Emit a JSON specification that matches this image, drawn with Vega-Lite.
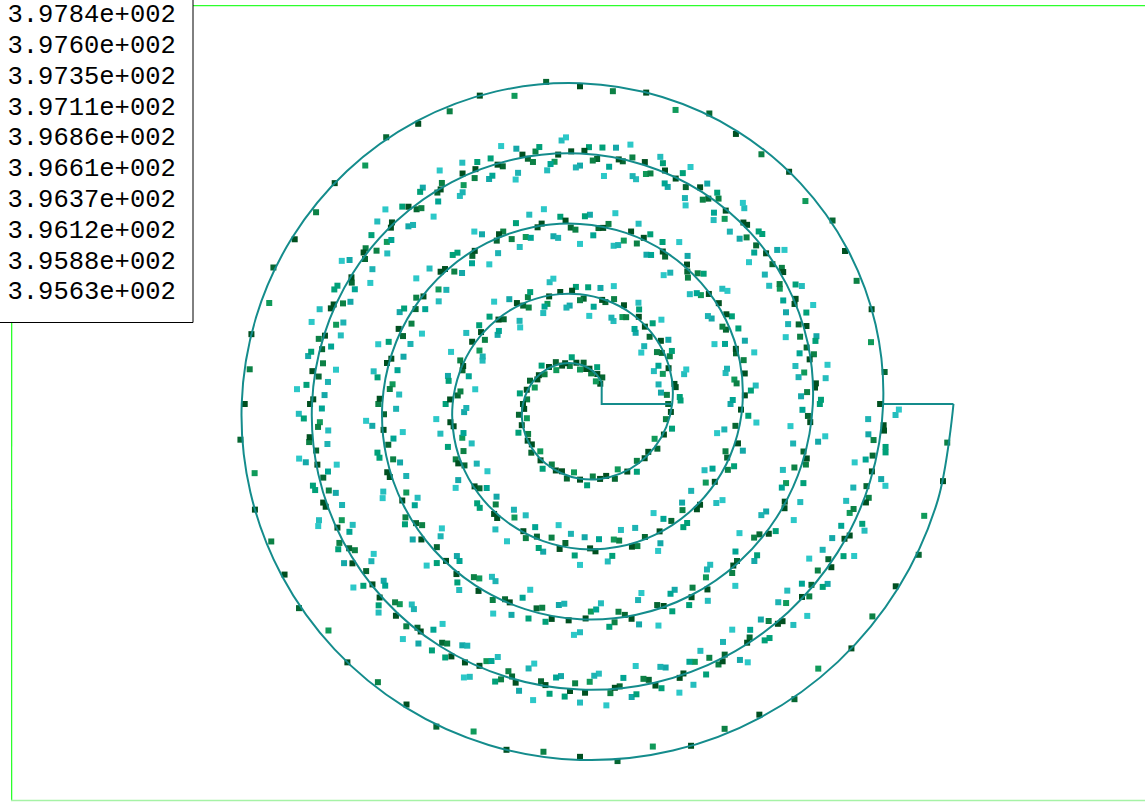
{
  "$schema": "https://vega.github.io/schema/vega-lite/v6.json",
  "width": 1134,
  "height": 797,
  "autosize": {"type": "none"},
  "padding": {"left": 11, "top": 5, "right": 0, "bottom": 0},
  "background": "#ffffff",
  "config": {"view": {"stroke": "transparent", "strokeWidth": 0}},
  "projection": {"type": "azimuthalEquidistant", "rotate": [90, -90, 0], "scale": 229.183, "translate": [569, 399]},
  "layer": [
    {
      "data": {
        "format": {"type": "csv", "parse": {"lon": "number", "lat": "number", "lon2": "number", "lat2": "number"}},
        "values": "lon,lat,lon2,lat2\n144.96,-83.74,34.99,-83.94\n144.96,-83.74,214.90,-83.45"
      },
      "mark": {"type": "rule", "color": "#2cff2c", "strokeWidth": 2.6},
      "encoding": {
        "longitude": {"field": "lon", "type": "quantitative"},
        "latitude": {"field": "lat", "type": "quantitative"},
        "longitude2": {"field": "lon2"},
        "latitude2": {"field": "lat2"}
      }
    },
    {
      "data": {
        "format": {"type": "csv", "parse": {"lon": "number", "lat": "number", "lon2": "number", "lat2": "number"}},
        "values": "lon,lat,lon2,lat2\n214.87,-83.38,325.18,-83.59"
      },
      "mark": {"type": "rule", "color": "#a6f2a6", "strokeWidth": 1.5},
      "encoding": {
        "longitude": {"field": "lon", "type": "quantitative"},
        "latitude": {"field": "lat", "type": "quantitative"},
        "longitude2": {"field": "lon2"},
        "latitude2": {"field": "lat2"}
      }
    },
    {
      "data": {
        "format": {"type": "csv", "parse": {"lon": "number", "lat": "number", "v": "number"}},
        "values": "lon,lat,v\n45,82.83,397.84\n50,81.33,397.60\n55,83.09,397.11\n60,81.35,397.84\n65,79.85,396.86\n70,81.86,397.35\n75,80.86,397.84\n80,81.12,397.84\n85,79.63,397.60\n90,81.38,397.11\n95,79.64,397.84\n100,78.14,396.86\n105,80.15,397.35\n110,79.15,397.84\n115,79.41,397.84\n120,77.92,397.60\n125,79.67,397.11\n130,77.93,397.84\n135,76.43,396.86\n140,78.44,397.35\n145,77.45,397.84\n150,77.70,397.84\n155,76.21,397.60\n160,77.96,397.11\n165,76.22,397.84\n170,74.73,396.86\n175,76.73,397.35\n180,75.74,397.84\n185,75.99,397.84\n190,74.50,397.60\n195,76.25,397.11\n200,74.51,397.84\n205,73.02,396.86\n210,75.02,397.35\n215,74.03,397.84\n220,74.28,397.84\n225,72.79,397.60\n230,74.55,397.11\n235,72.80,397.84\n240,71.31,396.86\n245,73.31,397.35\n250,72.32,397.84\n255,72.58,397.84\n260,71.08,397.60\n265,72.84,397.11\n270,71.09,397.84\n275,69.60,396.86\n280,71.60,397.35\n285,70.61,397.84\n290,70.87,397.84\n295,69.37,397.60\n300,71.13,397.11\n305,69.38,397.84\n310,67.89,396.86\n315,69.90,397.35\n320,68.90,397.84\n325,69.16,397.84\n330,67.66,397.60\n335,69.42,397.11\n340,67.68,397.84\n345,66.18,396.86\n350,68.19,397.35\n355,67.19,397.84\n0,67.95,397.60\n4,65.00,396.86\n8,69.56,396.37\n12,65.86,397.84\n16,62.92,395.88\n20,67.97,397.11\n24,69.78,395.88\n28,64.58,397.35\n32,65.89,397.60\n36,62.69,396.37\n40,70.00,395.63\n44,65.80,397.60\n48,62.85,396.86\n52,67.41,396.37\n56,63.71,397.84\n60,60.77,395.88\n64,65.82,397.11\n68,67.63,395.88\n72,62.43,397.35\n76,63.74,397.60\n80,60.54,396.37\n84,67.85,395.63\n88,63.65,397.60\n92,60.71,396.86\n96,65.26,396.37\n100,61.57,397.84\n104,58.62,395.88\n108,63.68,397.11\n112,65.48,395.88\n116,60.28,397.35\n120,61.59,397.60\n124,58.39,396.37\n128,65.70,395.63\n132,61.50,397.60\n136,58.56,396.86\n140,63.11,396.37\n144,59.42,397.84\n148,56.47,395.88\n152,61.53,397.11\n156,63.33,395.88\n160,58.14,397.35\n164,59.44,397.60\n168,56.25,396.37\n172,63.55,395.63\n176,59.36,397.60\n180,56.41,396.86\n184,60.96,396.37\n188,57.27,397.84\n192,54.32,395.88\n196,59.38,397.11\n200,61.18,395.88\n204,55.99,397.35\n208,57.29,397.60\n212,54.10,396.37\n216,61.40,395.63\n220,57.21,397.60\n224,54.26,396.86\n228,58.82,396.37\n232,55.12,397.84\n236,52.18,395.88\n240,57.23,397.11\n244,59.04,395.88\n248,53.84,397.35\n252,55.14,397.60\n256,51.95,396.37\n260,59.25,395.63\n264,55.06,397.60\n268,52.11,396.86\n272,56.67,396.37\n276,52.97,397.84\n280,50.03,395.88\n284,55.08,397.11\n288,56.89,395.88\n292,51.69,397.35\n296,53.00,397.60\n300,49.80,396.37\n304,57.11,395.63\n308,52.91,397.60\n312,49.97,396.86\n316,54.52,396.37\n320,50.82,397.84\n324,47.88,395.88\n328,52.93,397.11\n332,54.74,395.88\n336,49.54,397.35\n340,50.85,397.60\n344,47.65,396.37\n348,54.96,395.63\n352,50.76,397.60\n356,47.82,396.86\n0,52.37,396.37\n3,48.73,397.84\n6,45.83,395.88\n9,50.93,397.11\n12,52.79,395.88\n15,47.64,397.35\n18,48.99,397.60\n21,45.85,396.37\n24,53.20,395.63\n27,49.05,397.60\n30,46.16,396.86\n33,50.76,396.37\n36,47.11,397.84\n39,44.22,395.88\n42,49.32,397.11\n45,51.17,395.88\n48,46.03,397.35\n51,47.38,397.60\n54,44.24,396.37\n57,51.59,395.63\n60,47.44,397.60\n63,44.55,396.86\n66,49.15,396.37\n69,45.50,397.84\n72,42.61,395.88\n75,47.71,397.11\n78,49.56,395.88\n81,44.42,397.35\n84,45.77,397.60\n87,42.62,396.37\n90,49.98,395.63\n93,45.83,397.60\n96,42.93,396.86\n99,47.54,396.37\n102,43.89,397.84\n105,41.00,395.88\n108,46.10,397.11\n111,47.95,395.88\n114,42.81,397.35\n117,44.16,397.60\n120,41.01,396.37\n123,48.37,395.63\n126,44.22,397.60\n129,41.32,396.86\n132,45.93,396.37\n135,42.28,397.84\n138,39.38,395.88\n141,44.49,397.11\n144,46.34,395.88\n147,41.19,397.35\n150,42.55,397.60\n153,39.40,396.37\n156,46.75,395.63\n159,42.61,397.60\n162,39.71,396.86\n165,44.32,396.37\n168,40.67,397.84\n171,37.77,395.88\n174,42.88,397.11\n177,44.73,395.88\n180,39.58,397.35\n183,40.94,397.60\n186,37.79,396.37\n189,45.14,395.63\n192,41.00,397.60\n195,38.10,396.86\n198,42.70,396.37\n201,39.06,397.84\n204,36.16,395.88\n207,41.26,397.11\n210,43.12,395.88\n213,37.97,397.35\n216,39.33,397.60\n219,36.18,396.37\n222,43.53,395.63\n225,39.39,397.60\n228,36.49,396.86\n231,41.09,396.37\n234,37.45,397.84\n237,34.55,395.88\n240,39.65,397.11\n243,41.51,395.88\n246,36.36,397.35\n249,37.71,397.60\n252,34.57,396.37\n255,41.92,395.63\n258,37.77,397.60\n261,34.88,396.86\n264,39.48,396.37\n267,35.84,397.84\n270,32.94,395.88\n273,38.04,397.11\n276,39.90,395.88\n279,34.75,397.35\n282,36.10,397.60\n285,32.96,396.37\n288,40.31,395.63\n291,36.16,397.60\n294,33.27,396.86\n297,37.87,396.37\n300,34.22,397.84\n303,31.33,395.88\n306,36.43,397.11\n309,38.28,395.88\n312,33.14,397.35\n315,34.49,397.60\n318,31.35,396.37\n321,38.70,395.63\n324,34.55,397.60\n327,31.66,396.86\n330,36.26,396.37\n333,32.61,397.84\n336,29.72,395.88\n339,34.82,397.11\n342,36.67,395.88\n345,31.53,397.35\n348,32.88,397.60\n351,29.73,396.37\n354,37.09,395.63\n357,32.94,397.60\n0,30.04,396.86\n2,34.70,396.37\n4,31.10,397.84\n6,28.25,395.88\n8,33.40,397.11\n10,35.31,395.88\n12,30.21,397.35\n14,31.61,397.60\n16,28.51,396.37\n18,35.92,395.63\n20,31.82,397.60\n22,28.97,396.86\n24,33.62,396.37\n26,30.03,397.84\n28,27.18,395.88\n30,32.33,397.11\n32,34.23,395.88\n34,29.13,397.35\n36,30.54,397.60\n38,27.44,396.37\n40,34.84,395.63\n42,30.74,397.60\n44,27.90,396.86\n46,32.55,396.37\n48,28.95,397.84\n50,26.10,395.88\n52,31.26,397.11\n54,33.16,395.88\n56,28.06,397.35\n58,29.46,397.60\n60,26.37,396.37\n62,33.77,395.63\n64,29.67,397.60\n66,26.82,396.86\n68,31.47,396.37\n70,27.88,397.84\n72,25.03,395.88\n74,30.18,397.11\n76,32.08,395.88\n78,26.99,397.35\n80,28.39,397.60\n82,25.29,396.37\n84,32.69,395.63\n86,28.60,397.60\n88,25.75,396.86\n90,30.40,396.37\n92,26.80,397.84\n94,23.96,395.88\n96,29.11,397.11\n98,31.01,395.88\n100,25.91,397.35\n102,27.31,397.60\n104,24.22,396.37\n106,31.62,395.63\n108,27.52,397.60\n110,24.67,396.86\n112,29.33,396.37\n114,25.73,397.84\n116,22.88,395.88\n118,28.03,397.11\n120,29.94,395.88\n122,24.84,397.35\n124,26.24,397.60\n126,23.14,396.37\n128,30.55,395.63\n130,26.45,397.60\n132,23.60,396.86\n134,28.25,396.37\n136,24.65,397.84\n138,21.81,395.88\n140,26.96,397.11\n142,28.86,395.88\n144,23.76,397.35\n146,25.17,397.60\n148,22.07,396.37\n150,29.47,395.63\n152,25.37,397.60\n154,22.53,396.86\n156,27.18,396.37\n158,23.58,397.84\n160,20.73,395.88\n162,25.89,397.11\n164,27.79,395.88\n166,22.69,397.35\n168,24.09,397.60\n170,20.99,396.37\n172,28.40,395.63\n174,24.30,397.60\n176,21.45,396.86\n178,26.10,396.37\n180,22.51,397.84\n182,19.66,395.88\n184,24.81,397.11\n186,26.71,395.88\n188,21.62,397.35\n190,23.02,397.60\n192,19.92,396.37\n194,27.32,395.63\n196,23.23,397.60\n198,20.38,396.86\n200,25.03,396.37\n202,21.43,397.84\n204,18.58,395.88\n206,23.74,397.11\n208,25.64,395.88\n210,20.54,397.35\n212,21.94,397.60\n214,18.85,396.37\n216,26.25,395.63\n218,22.15,397.60\n220,19.30,396.86\n222,23.96,396.37\n224,20.36,397.84\n226,17.51,395.88\n228,22.66,397.11\n230,24.57,395.88\n232,19.47,397.35\n234,20.87,397.60\n236,17.77,396.37\n238,25.17,395.63\n240,21.08,397.60\n242,18.23,396.86\n244,22.88,396.37\n246,19.28,397.84\n248,16.44,395.88\n250,21.59,397.11\n252,23.49,395.88\n254,18.39,397.35\n256,19.80,397.60\n258,16.70,396.37\n260,24.10,395.63\n262,20.00,397.60\n264,17.16,396.86\n266,21.81,396.37\n268,18.21,397.84\n270,15.36,395.88\n272,20.51,397.11\n274,22.42,395.88\n276,17.32,397.35\n278,18.72,397.60\n280,15.62,396.37\n282,23.03,395.63\n284,18.93,397.60\n286,16.08,396.86\n288,20.73,396.37\n290,17.14,397.84\n292,14.29,395.88\n294,19.44,397.11\n296,21.34,395.88\n298,16.25,397.35\n300,17.65,397.60\n302,14.55,396.37\n304,21.95,395.63\n306,17.85,397.60\n308,15.01,396.86\n310,19.66,396.37\n312,16.06,397.84\n314,13.21,395.88\n316,18.37,397.11\n318,20.27,395.88\n320,15.17,397.35\n322,16.57,397.60\n324,13.48,396.37\n326,20.88,395.63\n328,16.78,397.60\n330,13.93,396.86\n332,18.59,396.37\n334,14.99,397.84\n336,12.14,395.88\n338,17.29,397.11\n340,19.19,395.88\n342,14.10,397.35\n344,15.50,397.60\n346,12.40,396.37\n348,19.80,395.63\n350,15.71,397.60\n352,12.86,396.86\n354,17.51,396.37\n356,13.91,397.84\n358,11.07,395.88\n0,14.97,397.84\n6,13.42,397.60\n12,15.63,397.11\n18,13.34,397.84\n24,14.30,397.35\n30,13.50,397.84\n36,11.96,397.60\n42,14.17,397.11\n48,11.87,397.84\n54,12.83,397.35\n60,12.04,397.84\n66,10.50,397.60\n72,12.70,397.11\n78,10.41,397.84\n84,11.37,397.35\n90,10.57,397.84\n96,9.03,397.60\n102,11.24,397.11\n108,8.94,397.84\n114,9.90,397.35\n120,9.11,397.84\n126,7.57,397.60\n132,9.77,397.11\n138,7.48,397.84\n144,8.44,397.35\n150,7.64,397.84\n156,6.10,397.60\n162,8.31,397.11\n168,6.02,397.84\n174,6.97,397.35\n180,6.18,397.84\n186,4.64,397.60\n192,6.84,397.11\n198,4.55,397.84\n204,5.51,397.35\n210,4.71,397.84\n216,3.17,397.60\n222,5.38,397.11\n228,3.09,397.84\n234,4.04,397.35\n240,3.25,397.84\n246,1.71,397.60\n252,3.91,397.11\n258,1.62,397.84\n264,2.58,397.35\n270,1.79,397.84\n276,0.24,397.60\n282,2.45,397.11\n288,0.16,397.84\n294,1.11,397.35\n300,0.32,397.84\n306,-1.22,397.60\n312,0.98,397.11\n318,-1.31,397.84\n324,-0.35,397.35\n330,-1.15,397.84\n336,-2.69,397.60\n342,-0.48,397.11\n348,-2.77,397.84\n354,-2.32,397.35\n2,64.85,396.86\n6,68.16,397.35\n10,65.71,397.84\n14,69.76,396.12\n18,62.07,395.63\n22,66.12,397.84\n26,68.18,396.61\n30,63.48,396.86\n34,66.79,397.35\n38,64.34,397.84\n42,68.40,396.12\n46,60.70,395.63\n50,64.76,397.84\n54,66.81,396.61\n58,62.12,396.86\n62,65.42,397.35\n66,62.98,397.84\n70,67.03,396.12\n74,59.34,395.63\n78,63.39,397.84\n82,65.44,396.61\n86,60.75,396.86\n90,64.05,397.35\n94,61.61,397.84\n98,65.66,396.12\n102,57.97,395.63\n106,62.02,397.84\n110,64.08,396.61\n114,59.38,396.86\n118,62.69,397.35\n122,60.24,397.84\n126,64.30,396.12\n130,56.60,395.63\n134,60.66,397.84\n138,62.71,396.61\n142,58.02,396.86\n146,61.32,397.35\n150,58.87,397.84\n154,62.93,396.12\n158,55.23,395.63\n162,59.29,397.84\n166,61.34,396.61\n170,56.65,396.86\n174,59.95,397.35\n178,57.51,397.84\n182,61.56,396.12\n186,53.87,395.63\n190,57.92,397.84\n194,59.98,396.61\n198,55.28,396.86\n202,58.59,397.35\n206,56.14,397.84\n210,60.19,396.12\n214,52.50,395.63\n218,56.55,397.84\n222,58.61,396.61\n226,53.91,396.86\n230,57.22,397.35\n234,54.77,397.84\n238,58.83,396.12\n242,51.13,395.63\n246,55.19,397.84\n250,57.24,396.61\n254,52.55,396.86\n258,55.85,397.35\n262,53.41,397.84\n266,57.46,396.12\n270,49.77,395.63\n274,53.82,397.84\n278,55.87,396.61\n282,51.18,396.86\n286,54.48,397.35\n290,52.04,397.84\n294,56.09,396.12\n298,48.40,395.63\n302,52.45,397.84\n306,54.51,396.61\n310,49.81,396.86\n314,53.12,397.35\n318,50.67,397.84\n322,54.73,396.12\n326,47.03,395.63\n330,51.09,397.84\n334,53.14,396.61\n338,48.45,396.86\n342,51.75,397.35\n346,49.30,397.84\n350,53.36,396.12\n354,45.66,395.63\n358,49.72,397.84\n1.5,51.80,396.61\n4.5,47.15,396.86\n7.5,50.51,397.35\n10.5,48.11,397.84\n13.5,52.21,396.12\n16.5,44.57,395.63\n19.5,48.67,397.84\n22.5,50.77,396.61\n25.5,46.13,396.86\n28.5,49.48,397.35\n31.5,47.08,397.84\n34.5,51.19,396.12\n37.5,43.54,395.63\n40.5,47.64,397.84\n43.5,49.75,396.61\n46.5,45.10,396.86\n49.5,48.45,397.35\n52.5,46.06,397.84\n55.5,50.16,396.12\n58.5,42.52,395.63\n61.5,46.62,397.84\n64.5,48.72,396.61\n67.5,44.08,396.86\n70.5,47.43,397.35\n73.5,45.03,397.84\n76.5,49.14,396.12\n79.5,41.49,395.63\n82.5,45.59,397.84\n85.5,47.70,396.61\n88.5,43.05,396.86\n91.5,46.40,397.35\n94.5,44.01,397.84\n97.5,48.11,396.12\n100.5,40.47,395.63\n103.5,44.57,397.84\n106.5,46.67,396.61\n109.5,42.03,396.86\n112.5,45.38,397.35\n115.5,42.98,397.84\n118.5,47.09,396.12\n121.5,39.44,395.63\n124.5,43.54,397.84\n127.5,45.65,396.61\n130.5,41.00,396.86\n133.5,44.35,397.35\n136.5,41.96,397.84\n139.5,46.06,396.12\n142.5,38.41,395.63\n145.5,42.52,397.84\n148.5,44.62,396.61\n151.5,39.97,396.86\n154.5,43.33,397.35\n157.5,40.93,397.84\n160.5,45.04,396.12\n163.5,37.39,395.63\n166.5,41.49,397.84\n169.5,43.60,396.61\n172.5,38.95,396.86\n175.5,42.30,397.35\n178.5,39.91,397.84\n181.5,44.01,396.12\n184.5,36.36,395.63\n187.5,40.47,397.84\n190.5,42.57,396.61\n193.5,37.92,396.86\n196.5,41.28,397.35\n199.5,38.88,397.84\n202.5,42.98,396.12\n205.5,35.34,395.63\n208.5,39.44,397.84\n211.5,41.55,396.61\n214.5,36.90,396.86\n217.5,40.25,397.35\n220.5,37.86,397.84\n223.5,41.96,396.12\n226.5,34.31,395.63\n229.5,38.42,397.84\n232.5,40.52,396.61\n235.5,35.87,396.86\n238.5,39.23,397.35\n241.5,36.83,397.84\n244.5,40.93,396.12\n247.5,33.29,395.63\n250.5,37.39,397.84\n253.5,39.49,396.61\n256.5,34.85,396.86\n259.5,38.20,397.35\n262.5,35.81,397.84\n265.5,39.91,396.12\n268.5,32.26,395.63\n271.5,36.37,397.84\n274.5,38.47,396.61\n277.5,33.82,396.86\n280.5,37.18,397.35\n283.5,34.78,397.84\n286.5,38.88,396.12\n289.5,31.24,395.63\n292.5,35.34,397.84\n295.5,37.44,396.61\n298.5,32.80,396.86\n301.5,36.15,397.35\n304.5,33.75,397.84\n307.5,37.86,396.12\n310.5,30.21,395.63\n313.5,34.32,397.84\n316.5,36.42,396.61\n319.5,31.77,396.86\n322.5,35.13,397.35\n325.5,32.73,397.84\n328.5,36.83,396.12\n331.5,29.19,395.63\n334.5,33.29,397.84\n337.5,35.39,396.61\n340.5,30.75,396.86\n343.5,34.10,397.35\n346.5,31.70,397.84\n349.5,35.81,396.12\n352.5,28.16,395.63\n355.5,32.26,397.84\n358.5,34.37,396.61\n1,29.75,396.86\n3,33.15,397.35\n5,30.80,397.84\n7,34.95,396.12\n9,27.35,395.63\n11,31.51,397.84\n13,33.66,396.61\n15,29.06,396.86\n17,32.46,397.35\n19,30.12,397.84\n21,34.27,396.12\n23,26.67,395.63\n25,30.82,397.84\n27,32.98,396.61\n29,28.38,396.86\n31,31.78,397.35\n33,29.43,397.84\n35,33.59,396.12\n37,25.99,395.63\n39,30.14,397.84\n41,32.29,396.61\n43,27.69,396.86\n45,31.10,397.35\n47,28.75,397.84\n49,32.90,396.12\n51,25.30,395.63\n53,29.46,397.84\n55,31.61,396.61\n57,27.01,396.86\n59,30.41,397.35\n61,28.07,397.84\n63,32.22,396.12\n65,24.62,395.63\n67,28.77,397.84\n69,30.93,396.61\n71,26.33,396.86\n73,29.73,397.35\n75,27.38,397.84\n77,31.53,396.12\n79,23.94,395.63\n81,28.09,397.84\n83,30.24,396.61\n85,25.64,396.86\n87,29.05,397.35\n89,26.70,397.84\n91,30.85,396.12\n93,23.25,395.63\n95,27.41,397.84\n97,29.56,396.61\n99,24.96,396.86\n101,28.36,397.35\n103,26.02,397.84\n105,30.17,396.12\n107,22.57,395.63\n109,26.72,397.84\n111,28.87,396.61\n113,24.28,396.86\n115,27.68,397.35\n117,25.33,397.84\n119,29.48,396.12\n121,21.89,395.63\n123,26.04,397.84\n125,28.19,396.61\n127,23.59,396.86\n129,27.00,397.35\n131,24.65,397.84\n133,28.80,396.12\n135,21.20,395.63\n137,25.36,397.84\n139,27.51,396.61\n141,22.91,396.86\n143,26.31,397.35\n145,23.96,397.84\n147,28.12,396.12\n149,20.52,395.63\n151,24.67,397.84\n153,26.82,396.61\n155,22.23,396.86\n157,25.63,397.35\n159,23.28,397.84\n161,27.43,396.12\n163,19.84,395.63\n165,23.99,397.84\n167,26.14,396.61\n169,21.54,396.86\n171,24.95,397.35\n173,22.60,397.84\n175,26.75,396.12\n177,19.15,395.63\n179,23.30,397.84\n181,25.46,396.61\n183,20.86,396.86\n185,24.26,397.35\n187,21.91,397.84\n189,26.07,396.12\n191,18.47,395.63\n193,22.62,397.84\n195,24.77,396.61\n197,20.18,396.86\n199,23.58,397.35\n201,21.23,397.84\n203,25.38,396.12\n205,17.79,395.63\n207,21.94,397.84\n209,24.09,396.61\n211,19.49,396.86\n213,22.89,397.35\n215,20.55,397.84\n217,24.70,396.12\n219,17.10,395.63\n221,21.25,397.84\n223,23.41,396.61\n225,18.81,396.86\n227,22.21,397.35\n229,19.86,397.84\n231,24.02,396.12\n233,16.42,395.63\n235,20.57,397.84\n237,22.72,396.61\n239,18.13,396.86\n241,21.53,397.35\n243,19.18,397.84\n245,23.33,396.12\n247,15.73,395.63\n249,19.89,397.84\n251,22.04,396.61\n253,17.44,396.86\n255,20.84,397.35\n257,18.50,397.84\n259,22.65,396.12\n261,15.05,395.63\n263,19.20,397.84\n265,21.36,396.61\n267,16.76,396.86\n269,20.16,397.35\n271,17.81,397.84\n273,21.97,396.12\n275,14.37,395.63\n277,18.52,397.84\n279,20.67,396.61\n281,16.07,396.86\n283,19.48,397.35\n285,17.13,397.84\n287,21.28,396.12\n289,13.68,395.63\n291,17.84,397.84\n293,19.99,396.61\n295,15.39,396.86\n297,18.79,397.35\n299,16.45,397.84\n301,20.60,396.12\n303,13.00,395.63\n305,17.15,397.84\n307,19.31,396.61\n309,14.71,396.86\n311,18.11,397.35\n313,15.76,397.84\n315,19.91,396.12\n317,12.32,395.63\n319,16.47,397.84\n321,18.62,396.61\n323,14.02,396.86\n325,17.43,397.35\n327,15.08,397.84\n329,19.23,396.12\n331,11.63,395.63\n333,15.79,397.84\n335,17.94,396.61\n337,13.34,396.86\n339,16.74,397.35\n341,14.40,397.84\n343,18.55,396.12\n345,10.95,395.63\n347,15.10,397.84\n349,17.25,396.61\n351,12.66,396.86\n353,16.06,397.35\n355,13.71,397.84\n357,17.86,396.12\n359,10.27,395.63"
      },
      "mark": {"type": "point", "shape": "square", "filled": true, "size": 36, "opacity": 1, "strokeWidth": 0},
      "encoding": {
        "longitude": {"field": "lon", "type": "quantitative"},
        "latitude": {"field": "lat", "type": "quantitative"},
        "color": {
          "field": "v",
          "type": "quantitative",
          "scale": {"domain": [395.63, 396.37, 397.11, 397.84], "range": ["#2cc8c8", "#14a8a8", "#109a5a", "#005020"]},
          "legend": {
            "type": "symbol",
            "orient": "none",
            "legendX": -45.5,
            "legendY": -20,
            "direction": "vertical",
            "values": [397.84, 397.60, 397.35, 397.11, 396.86, 396.61, 396.37, 396.12, 395.88, 395.63],
            "title": null,
            "symbolSize": 0,
            "symbolOpacity": 0,
            "symbolStrokeWidth": 0,
            "labelFont": "Liberation Mono",
            "labelFontSize": 25.5,
            "labelColor": "#000000",
            "labelOffset": 0,
            "labelLimit": 400,
            "labelExpr": "format(datum.value / 100, '.4f') + 'e+002'",
            "padding": 16.5,
            "rowPadding": 3.8,
            "fillColor": "#ffffff",
            "strokeColor": "#000000"
          }
        }
      }
    },
    {
      "data": {
        "format": {"type": "csv", "parse": {"i": "number", "lon": "number", "lat": "number"}},
        "values": "i,lon,lat\n0,45,82.33\n1,60,81.60\n2,75,80.86\n3,90,80.13\n4,105,79.40\n5,120,78.67\n6,135,77.93\n7,150,77.20\n8,165,76.47\n9,180,75.74\n10,195,75.00\n11,210,74.27\n12,225,73.54\n13,240,72.81\n14,255,72.07\n15,270,71.34\n16,285,70.61\n17,300,69.88\n18,315,69.14\n19,330,68.41\n20,345,67.68\n21,0,66.95\n22,15,66.21\n23,30,65.48\n24,45,64.75\n25,60,64.02\n26,75,63.29\n27,90,62.55\n28,105,61.82\n29,120,61.09\n30,135,60.36\n31,150,59.62\n32,165,58.89\n33,180,58.16\n34,195,57.43\n35,210,56.69\n36,225,55.96\n37,240,55.23\n38,255,54.50\n39,270,53.76\n40,285,53.03\n41,300,52.30\n42,315,51.57\n43,330,50.83\n44,345,50.10\n45,0,49.37\n46,15,48.64\n47,30,47.90\n48,45,47.17\n49,60,46.44\n50,75,45.71\n51,90,44.97\n52,105,44.24\n53,120,43.51\n54,135,42.78\n55,150,42.05\n56,165,41.31\n57,180,40.58\n58,195,39.85\n59,210,39.12\n60,225,38.38\n61,240,37.65\n62,255,36.92\n63,270,36.19\n64,285,35.45\n65,300,34.72\n66,315,33.99\n67,330,33.26\n68,345,32.52\n69,0,31.79\n70,15,31.06\n71,30,30.33\n72,45,29.59\n73,60,28.86\n74,75,28.13\n75,90,27.40\n76,105,26.66\n77,120,25.93\n78,135,25.20\n79,150,24.47\n80,165,23.73\n81,180,23.00\n82,195,22.27\n83,210,21.54\n84,225,20.81\n85,240,20.07\n86,255,19.34\n87,270,18.61\n88,285,17.88\n89,300,17.14\n90,315,16.41\n91,330,15.68\n92,345,14.95\n93,0,14.21\n94,15,13.48\n95,30,12.75\n96,45,12.02\n97,60,11.28\n98,75,10.55\n99,90,9.82\n100,105,9.09\n101,120,8.35\n102,135,7.62\n103,150,6.89\n104,165,6.16\n105,180,5.42\n106,195,4.69\n107,210,3.96\n108,225,3.23\n109,240,2.49\n110,255,1.76\n111,270,1.03\n112,285,0.30\n113,300,-0.44\n114,315,-1.17\n115,330,-1.90\n116,345,-2.63\n117,0,-3.37"
      },
      "mark": {"type": "line", "interpolate": "catmull-rom", "color": "#148c8c", "strokeWidth": 2},
      "encoding": {
        "longitude": {"field": "lon", "type": "quantitative"},
        "latitude": {"field": "lat", "type": "quantitative"},
        "order": {"field": "i", "type": "quantitative"}
      }
    },
    {
      "data": {
        "format": {"type": "csv", "parse": {"g": "number", "i": "number", "lon": "number", "lat": "number"}},
        "values": "g,i,lon,lat\n1,0,0,66.95\n1,1,0,84.58\n1,2,45,82.33\n2,0,0,-3.37\n2,1,0,14.22"
      },
      "mark": {"type": "line", "color": "#148c8c", "strokeWidth": 2},
      "encoding": {
        "longitude": {"field": "lon", "type": "quantitative"},
        "latitude": {"field": "lat", "type": "quantitative"},
        "detail": {"field": "g", "type": "nominal"},
        "order": {"field": "i", "type": "quantitative"}
      }
    }
  ]
}
